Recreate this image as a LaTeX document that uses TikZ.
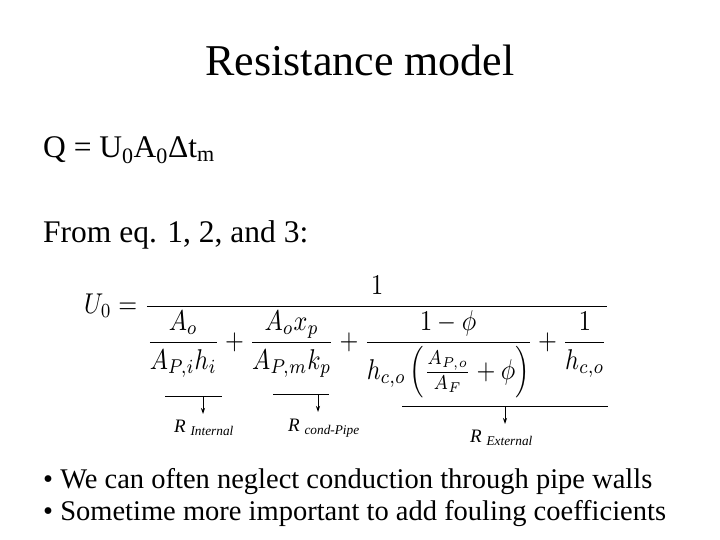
\documentclass[tikz,border=0pt]{standalone}
\usepackage{amsmath}
\usepackage{fontspec}
\setmainfont{Liberation Serif}
\usepackage{graphicx}
\usetikzlibrary{arrows.meta}
\begin{document}
\begin{tikzpicture}[x=1pt,y=-1pt,
  brace/.style={line width=0.6pt},
  arr/.style={line width=0.8pt,-{Stealth[length=6pt,width=4pt]}},
  rlab/.style={anchor=west,font=\fontsize{19}{22}\selectfont\itshape}]
\useasboundingbox (0,0) rectangle (720,540);
\node (title) at (360,60) {\fontsize{44}{48}\selectfont Resistance model};
\node[anchor=west,inner sep=0] (q) at (43,150) {\fontsize{31.5}{36}\selectfont Q = U\textsubscript{0}A\textsubscript{0}Δt\textsubscript{m}};
\node[anchor=west,inner sep=0] (from) at (43,235) {\fontsize{31.5}{36}\selectfont From eq. 1, 2, and 3:};
\node[anchor=west,inner sep=0] (eq) at (84,337) {\scalebox{1}[1.18]{\resizebox{526pt}{!}{$\displaystyle U_0=\frac{1}{\dfrac{A_o}{A_{P,i}h_i}+\dfrac{A_o x_p}{A_{P,m}k_p}+\dfrac{1-\phi}{h_{c,o}\left(\frac{A_{P,o}}{A_F}+\phi\right)}+\dfrac{1}{h_{c,o}}}$}}};
\coordinate (l1a) at (165,396); \coordinate (l1b) at (222,396);
\coordinate (l2a) at (273,394); \coordinate (l2b) at (329,394);
\coordinate (l3a) at (402,406); \coordinate (l3b) at (608,406);
\draw[brace] (l1a) -- (l1b); \draw[brace] (l2a) -- (l2b); \draw[brace] (l3a) -- (l3b);
\coordinate (a1) at (203,396); \coordinate (a2) at (318,394); \coordinate (a3) at (505,406);
\node[rlab,inner sep=0] (r1) at (174,428) {R \textsubscript{Internal}};
\node[rlab,inner sep=0] (r2) at (288,428) {R \textsubscript{cond-Pipe}};
\node[rlab,inner sep=0] (r3) at (470,438) {R \textsubscript{External}};
\draw[arr] (a1) -- (203,414);
\draw[arr] (a2) -- (318,412);
\draw[arr] (a3) -- (505,424);
\node[anchor=west,inner sep=0] (b1) at (43,482) {\fontsize{28.5}{32}\selectfont • We can often neglect conduction through pipe walls};
\node[anchor=west,inner sep=0] (b2) at (43,514) {\fontsize{28.5}{32}\selectfont • Sometime more important to add fouling coefficients};
\end{tikzpicture}
\end{document}
